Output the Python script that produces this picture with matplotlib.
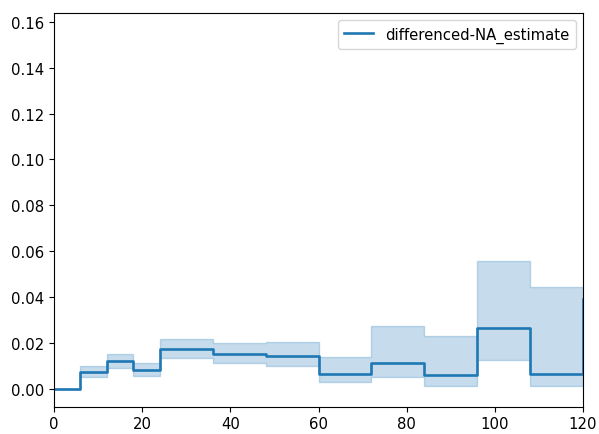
import numpy as np
import matplotlib
matplotlib.use("Agg")
import matplotlib.pyplot as plt

# timeline and estimate
timeline = [0, 6, 12, 18, 24, 36, 48, 60, 72, 84, 96, 108, 120]
estimate = [0.0, 0.0074, 0.0120, 0.0084, 0.0174, 0.0151, 0.0142,
            0.0064, 0.0112, 0.0059, 0.0267, 0.0064, 0.0390]
lower_ci = [0.0, 0.0054, 0.0093, 0.0058, 0.0136, 0.0112, 0.0100,
            0.0029, 0.0051, 0.0015, 0.0127, 0.0015, 0.0015]
upper_ci = [0.0, 0.0099, 0.0154, 0.0112, 0.0217, 0.0201, 0.0206,
            0.0141, 0.0273, 0.0230, 0.0558, 0.0443, 0.0443]
label = "differenced-NA_estimate"

plt.rcParams["font.size"] = 10.7

fig = plt.figure(figsize=(5.99, 4.35), dpi=100)
ax = fig.add_axes([54 / 599, 1 - 407.7 / 435, (583 - 54) / 599, (407.7 - 14) / 435])

ax.plot(timeline, estimate, drawstyle="steps-post", color="#1f77b4", lw=1.9, label=label)
ax.fill_between(timeline, lower_ci, upper_ci, step="post", color="#1f77b4", alpha=0.25)

ax.set_xlim(0, 120)
ax.set_ylim(-0.0077, 0.1638)
ax.set_yticks(np.arange(0, 0.161, 0.02))
ax.legend(loc="upper right")

fig.savefig("out.png", dpi=100)
